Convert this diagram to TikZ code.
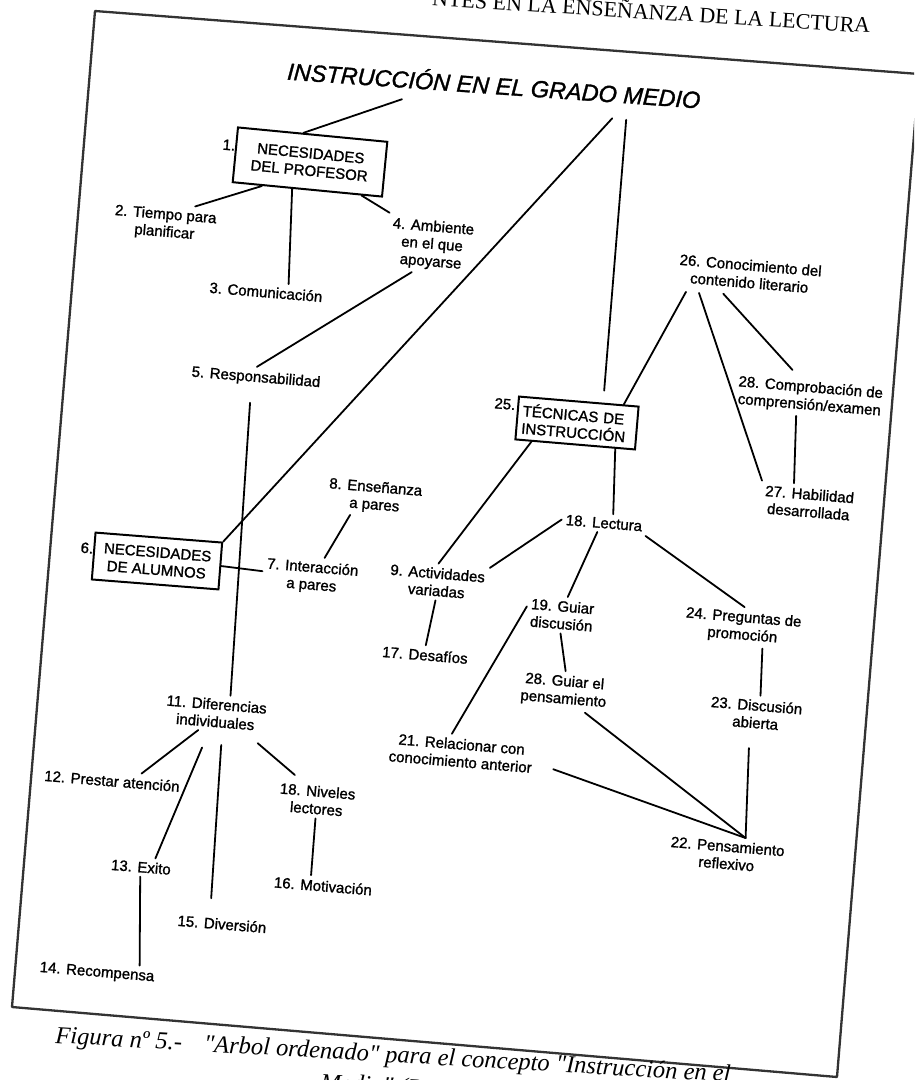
\documentclass[tikz,border=0pt]{standalone}
\usepackage{fontspec}
\setmainfont{Liberation Serif}
\newfontfamily\sansf[FakeBold=1.3]{Liberation Sans}
\usetikzlibrary{calc}
\newcommand\lblfont{\sansf\fontsize{15}{17.5}\selectfont}

\begin{document}
\begin{tikzpicture}[x=1pt,y=-1pt,
  lbl/.style={font=\lblfont, align=center, inner sep=4pt, rotate=-4.7},
  numlbl/.style={font=\lblfont, inner sep=1pt, rotate=-4.7},
  boxn/.style={draw, line width=2pt, font=\lblfont, align=center, inner sep=0pt},
  con/.style={line width=1.8pt, line cap=round},
  pageframe/.style={line width=2.3pt, draw=black!80, line join=round},
  ttl/.style={font=\sansf\itshape\fontsize{23.5}{28}\selectfont, inner sep=3pt, rotate=-4},
  hdrtext/.style={font=\fontsize{22}{26}\selectfont, inner sep=0pt, rotate=-3.6},
  captext/.style={font=\itshape\fontsize{24.5}{29}\selectfont, inner sep=0pt, rotate=-3.3}]
\useasboundingbox (0,0) rectangle (914,1080);
\clip (0,0) rectangle (914,1080);
\fill[white] (0,0) rectangle (914,1080);

% running head and outer frame
\node[hdrtext, anchor=base east] (hdr) at (870,33) {NTES EN LA ENSEÑANZA DE LA LECTURA};
\draw[pageframe] (95,11) -- (919,74) -- (837,1077) -- (12,1007) -- cycle;

% root
\node[ttl] (title) at (494,84) {INSTRUCCIÓN EN EL GRADO MEDIO};

% boxed concepts
\node[boxn, minimum width=150pt, minimum height=55pt, rotate=-5.5] (n1) at (310,162) {NECESIDADES\\DEL PROFESOR};
\node[boxn, minimum width=127pt, minimum height=47pt, rotate=-4.5] (n6) at (157,561) {NECESIDADES\\DE ALUMNOS};
\node[boxn, align=left, text width=110pt, inner xsep=5pt, minimum height=43pt, rotate=-4.8] (n25) at (577,423) {TÉCNICAS DE\\INSTRUCCIÓN};
\node[numlbl] (k1) at (229,145) {1.};
\node[numlbl] (k6) at (87,548) {6.};
\node[numlbl] (k25) at (505,404) {25.};

% plain concepts
\node[lbl] (n2) at (165,224) {2. Tiempo para\\planificar};
\node[lbl] (n3) at (266,292) {3. Comunicación};
\node[lbl] (n4) at (432,245) {4. Ambiente\\en el que\\apoyarse};
\node[lbl] (n5) at (256,378) {5. Responsabilidad};
\node[lbl] (n7) at (312,577) {7. Interacción\\a pares};
\node[lbl] (n8) at (375,497) {8. Enseñanza\\a pares};
\node[lbl] (n9) at (437,582) {9. Actividades\\variadas};
\node[lbl] (n10) at (317,800) {18. Niveles\\lectores};
\node[lbl] (n11) at (216,713) {11. Diferencias\\individuales};
\node[lbl] (n12) at (112,781) {12. Prestar atención};
\node[lbl] (n13) at (141,867) {13. Exito};
\node[lbl] (n14) at (97,973) {14. Recompensa};
\node[lbl] (n15) at (222,924) {15. Diversión};
\node[lbl] (n16) at (323,886) {16. Motivación};
\node[lbl] (n17) at (425,655) {17. Desafíos};
\node[lbl] (n18) at (604,523) {18. Lectura};
\node[lbl] (n19) at (562,615) {19. Guiar\\discusión};
\node[lbl] (n20) at (564,691) {28. Guiar el\\pensamiento};
\node[lbl] (n21) at (461,753) {21. Relacionar con\\conocimiento anterior};
\node[lbl] (n22) at (727,855) {22. Pensamiento\\reflexivo};
\node[lbl] (n23) at (756,714) {23. Discusión\\abierta};
\node[lbl] (n24) at (743,627) {24. Preguntas de\\promoción};
\node[lbl] (n26) at (750,274) {26. Conocimiento del\\contenido literario};
\node[lbl] (n27) at (809,503) {27. Habilidad\\desarrollada};
\node[lbl] (n28) at (810,397) {28. Comprobación de\\comprensión/examen};

% branches from the root
\draw[con, shorten <=21pt] ($(title.south west)!.33!(title.south east)$) -- ($(n1.north west)!.44!(n1.north east)$);
\draw[con, shorten <=16pt] ($(title.south west)!.81!(title.south east)$) -- (n6.north east);
\draw[con, shorten <=13pt, shorten >=12pt] ($(title.south west)!.82!(title.south east)$) -- ($(n25.north west)!.7!(n25.north east)$);

% teacher needs
\draw[con] ($(n1.south west)!.2!(n1.south east)$) -- ($(n2.north west)!.76!(n2.north east)$);
\draw[con] ($(n1.south west)!.4!(n1.south east)$) -- ($(n3.north west)!.68!(n3.north east)$);
\draw[con] ($(n1.south west)!.86!(n1.south east)$) -- (n4.north west);
\draw[con] ($(n4.south west)!.3!(n4.south east)$) -- (n5.north);
\draw[con, shorten <=14pt] ($(n5.south west)!.47!(n5.south east)$) -- ($(n11.north west)!.62!(n11.north east)$);

% pupil needs
\draw[con] (n6.east) -- (n7.178);
\draw[con] ($(n7.north west)!.61!(n7.north east)$) -- ($(n8.south west)!.27!(n8.south east)$);

% individual differences
\draw[con] ($(n11.south west)!.35!(n11.south east)$) -- ($(n12.north west)!.7!(n12.north east)$);
\draw[con, shorten <=18pt] ($(n11.south west)!.45!(n11.south east)$) -- ($(n13.north west)!.7!(n13.north east)$);
\draw[con, shorten <=13pt, shorten >=15pt] ($(n11.south west)!.57!(n11.south east)$) -- ($(n15.north west)!.37!(n15.north east)$);
\draw[con, shorten <=14pt, shorten >=8pt] ($(n11.south west)!.8!(n11.south east)$) -- ($(n10.north west)!.29!(n10.north east)$);
\draw[con] (n13.south) -- ($(n14.north west)!.84!(n14.north east)$);
\draw[con] (n10.south) -- ($(n16.north west)!.38!(n16.north east)$);

% literary content
\draw[con, shorten <=5pt] ($(n26.south west)!.1!(n26.south east)$) -- ($(n25.north west)!.87!(n25.north east)$);
\draw[con, shorten <=5pt] ($(n26.south west)!.16!(n26.south east)$) -- (n27.north west);
\draw[con, shorten <=5pt, shorten >=8pt] ($(n26.south west)!.31!(n26.south east)$) -- ($(n28.north west)!.41!(n28.north east)$);
\draw[con] ($(n28.south west)!.42!(n28.south east)$) -- ($(n27.north west)!.33!(n27.north east)$);

% instruction techniques
\draw[con] ($(n25.south west)!.14!(n25.south east)$) -- (n9.north);
\draw[con] ($(n25.south west)!.83!(n25.south east)$) -- ($(n18.north west)!.6!(n18.north east)$);
\draw[con] (n9.south) -- (n17.north);

% reading
\draw[con] (n18.west) -- (n9.north east);
\draw[con] ($(n18.south west)!.43!(n18.south east)$) -- ($(n19.north west)!.56!(n19.north east)$);
\draw[con] (n18.south east) -- (n24.north);
\draw[con] (n19.south) -- (n20.north);
\draw[con] (n19.171) -- ($(n21.north west)!.43!(n21.north east)$);
\draw[con] ($(n24.south west)!.67!(n24.south east)$) -- ($(n23.north west)!.53!(n23.north east)$);

% reflective thinking
\draw[con, shorten <=18pt] (n21.-3) -- ($(n22.north west)!.64!(n22.north east)$);
\draw[con] ($(n20.south west)!.74!(n20.south east)$) -- ($(n22.north west)!.64!(n22.north east)$);
\draw[con, shorten <=16pt] ($(n23.south west)!.45!(n23.south east)$) -- ($(n22.north west)!.64!(n22.north east)$);

% caption
\node[captext, anchor=base west] (cap1) at (55,1043) {Figura nº 5.-\hspace{0.9em}\textquotedbl Arbol ordenado\textquotedbl{} para el concepto \textquotedbl Instrucción en el};
\node[captext, anchor=base west] (cap2) at (320,1090) {Medio\textquotedbl{} (Re};
\end{tikzpicture}
\end{document}
